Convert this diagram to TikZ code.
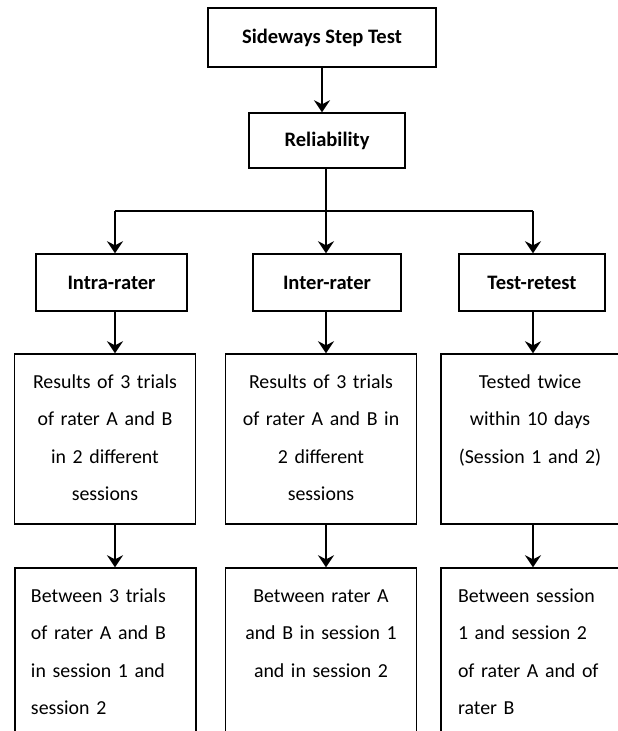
\documentclass[tikz,border=0pt]{standalone}
\usepackage{fontspec}
\setmainfont{Carlito}
\usetikzlibrary{arrows.meta}

\def\pxu{0.75pt}
\tikzset{
  box/.style={draw, line width=1.1pt, inner sep=0pt},
  head/.style={box, font=\fontsize{15.4}{18}\selectfont\bfseries},
  txt/.style={inner sep=0pt, font=\fontsize{14.9}{28.1}\selectfont},
}

\begin{document}
\begin{tikzpicture}[>={Stealth[length=9pt,width=12pt,inset=3pt]}, x=\pxu, y=\pxu, line width=1.1pt]
  \useasboundingbox (0,0) rectangle (617,-731);

  % Top of the tree
  \node[head, minimum width=228*\pxu, minimum height=59*\pxu] (sst) at (322,-37.5) {Sideways Step Test};
  \node[head, minimum width=156*\pxu, minimum height=55*\pxu] (rel) at (327,-140.5) {Reliability};

  % Three kinds of reliability
  \node[head, minimum width=151*\pxu, minimum height=57*\pxu] (intra) at (111.5,-282.5) {Intra-rater};
  \node[head, minimum width=148*\pxu, minimum height=57*\pxu] (inter) at (327,-282.5) {Inter-rater};
  \node[head, minimum width=146*\pxu, minimum height=57*\pxu] (test) at (532,-282.5) {Test-retest};

  % Procedure boxes
  \node[box, minimum width=181*\pxu, minimum height=170*\pxu] (resA) at (105,-439) {};
  \node[box, minimum width=191*\pxu, minimum height=170*\pxu] (resB) at (321,-439) {};
  \node[box, minimum width=178*\pxu, minimum height=170*\pxu] (resC) at (530,-439) {};
  \node[txt, anchor=north, align=center, text width=181*\pxu] at ([yshift=-8.3*\pxu]resA.north)
    {\strut Results of 3 trials\\of rater A and B\\in 2 different\\sessions};
  \node[txt, anchor=north, align=center, text width=191*\pxu] at ([yshift=-8.3*\pxu]resB.north)
    {\strut Results of 3 trials\\of rater A and B in\\2 different\\sessions};
  \node[txt, anchor=north, align=center, text width=178*\pxu] at ([yshift=-8.3*\pxu]resC.north)
    {\strut Tested twice\\within 10 days\\(Session 1 and 2)};

  % Comparison boxes
  \node[box, minimum width=181*\pxu, minimum height=170*\pxu] (betA) at (105.5,-653) {};
  \node[box, minimum width=191*\pxu, minimum height=170*\pxu] (betB) at (321,-653) {};
  \node[box, minimum width=178*\pxu, minimum height=170*\pxu] (betC) at (530,-653) {};
  \node[txt, anchor=north west, align=left, text width=170*\pxu] at ([xshift=16*\pxu,yshift=-8.3*\pxu]betA.north west)
    {\strut Between 3 trials\\of rater A and B\\in session 1 and\\session 2};
  \node[txt, anchor=north, align=center, text width=191*\pxu] at ([yshift=-8.3*\pxu]betB.north)
    {\strut Between rater A\\and B in session 1\\and in session 2};
  \node[txt, anchor=north west, align=left, text width=170*\pxu] at ([xshift=17*\pxu,yshift=-8.3*\pxu]betC.north west)
    {\strut Between session\\1 and session 2\\of rater A and of\\rater B};

  % Branch line
  \coordinate (brA) at (115,-211);
  \coordinate (brB) at (326,-211);
  \coordinate (brC) at (533,-211);
  \draw (brA) -- (brC);

  % Arrows
  \draw[->] (sst.south) -- (sst.south |- rel.north);
  \draw[->] (rel.south -| brB) -- (inter.north -| brB);
  \draw[->] (brA) -- (intra.north -| brA);
  \draw[->] (brC) -- (test.north -| brC);
  \draw[->] (intra.south -| brA) -- (resA.north -| brA);
  \draw[->] (inter.south -| brB) -- (resB.north -| brB);
  \draw[->] (test.south -| brC) -- (resC.north -| brC);
  \draw[->] (resA.south -| brA) -- (betA.north -| brA);
  \draw[->] (resB.south -| brB) -- (betB.north -| brB);
  \draw[->] (resC.south -| brC) -- (betC.north -| brC);
\end{tikzpicture}
\end{document}
